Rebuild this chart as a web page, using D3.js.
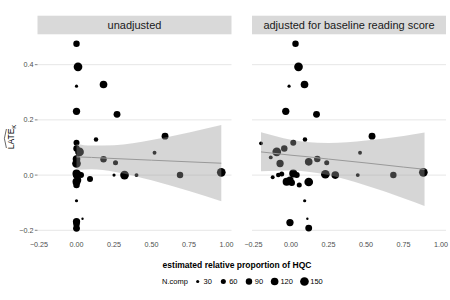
<!DOCTYPE html>
<html lang="en">
<head>
<meta charset="UTF-8">
<script src="https://d3js.org/d3.v7.min.js"></script>
<style>
  body { margin: 0; background: #fff; }
  svg { font-family: "Liberation Sans", Arial, sans-serif; }
</style>
</head>
<body>
<svg id="chart" width="450" height="300"></svg>
<script>
// panel titles
const panels = ["unadjusted", "adjusted for baseline reading score"];

// unadjusted panel points
const leftX = [0.00, 0.01, 0.00, 0.18, 0.00, 0.27, 0.13, 0.59, 0.00, 0.00, 0.02, 0.18, 0.26, 0.52,
  0.00, 0.00, 0.00, 0.03, 0.00, 0.00, 0.09, 0.25, 0.32, 0.40, 0.69, 0.965, 0.00, 0.04, 0.00, 0.00, 0.00,
  0.00, 0.01, 0.00, 0.02, 0.00, 0.00];
const leftY = [0.476, 0.392, 0.322, 0.328, 0.231, 0.220, 0.129, 0.141, 0.117, 0.096, 0.084, 0.057, 0.045, 0.081,
  0.042, 0.058, 0.006, 0.000, -0.024, -0.036, -0.014, 0.000, 0.000, 0.000, 0.000, 0.010, -0.093, -0.158, -0.169, -0.177, -0.193,
  0.000, -0.018, -0.028, 0.004, 0.064, -0.008];
const leftN = [90, 150, 30, 120, 110, 100, 50, 100, 80, 90, 150, 90, 60, 40,
  150, 120, 130, 80, 130, 90, 80, 30, 150, 40, 90, 150, 30, 20, 110, 90, 100,
  110, 90, 60, 60, 40, 40];

// adjusted panel points
const rightX = [0.03, 0.05, -0.013, 0.09, -0.035, 0.17, -0.20, 0.015, 0.093, 0.54, -0.045, -0.095, -0.135,
  -0.073, 0.118, 0.175, 0.238, 0.46, -0.122, -0.085, -0.062, 0.015, 0.038, -0.007, 0.005, -0.029, 0.055,
  0.118, 0.229, 0.295, 0.445, 0.682, 0.882, 0.091, -0.007, 0.109, 0.118];
const rightY = [0.476, 0.392, 0.322, 0.328, 0.231, 0.220, 0.115, 0.117, 0.129, 0.141, 0.096, 0.084, 0.064,
  0.042, 0.048, 0.058, 0.045, 0.081, -0.008, 0.000, 0.004, 0.006, 0.000, -0.018, -0.028, -0.024, -0.036,
  -0.025, 0.003, 0.000, 0.000, 0.000, 0.010, -0.093, -0.172, -0.158, -0.192];
const rightN = [90, 150, 30, 120, 110, 100, 40, 80, 50, 100, 90, 150, 40,
  110, 120, 90, 60, 40, 40, 50, 60, 130, 80, 110, 90, 130, 60,
  150, 150, 120, 40, 90, 150, 30, 110, 20, 100];

// linear fit with confidence band
const leftFitX = [0, 0.1, 0.25, 0.5, 0.75, 0.965];
const leftFit = [0.066, 0.064, 0.060, 0.054, 0.048, 0.043];
const leftLo = [0.019, 0.021, 0.012, -0.019, -0.058, -0.095];
const leftHi = [0.113, 0.107, 0.108, 0.127, 0.154, 0.181];

const rightFitX = [-0.2, 0, 0.1, 0.25, 0.5, 0.75, 0.89];
const rightFit = [0.084, 0.072, 0.067, 0.058, 0.044, 0.029, 0.021];
const rightLo = [0.014, 0.017, 0.013, 0.000, -0.038, -0.084, -0.112];
const rightHi = [0.155, 0.128, 0.120, 0.116, 0.125, 0.142, 0.154];

const xTicks = [-0.25, 0, 0.25, 0.5, 0.75, 1.0];
const yTicks = [-0.2, 0, 0.2, 0.4];
const legendN = [30, 60, 90, 120, 150];

const svg = d3.select("#chart");
const plotTop = 34.3, plotBottom = 238.3;
const panelLeft = [37.5, 252];
const panelW = 194;

const y = d3.scaleLinear().domain([-0.229, 0.51]).range([plotBottom, plotTop]);
const r = d3.scaleSqrt().domain([30, 150]).range([1.6, 4.35]);
const fmtX = d => d3.format(".2f")(d).replace("-", "\u2212");
const fmtY = d => d3.format(".1f")(d).replace("-", "\u2212");

const sets = [
  {x: leftX, y: leftY, n: leftN, fx: leftFitX, f: leftFit, lo: leftLo, hi: leftHi},
  {x: rightX, y: rightY, n: rightN, fx: rightFitX, f: rightFit, lo: rightLo, hi: rightHi}
];

panels.forEach((title, p) => {
  const x0 = panelLeft[p];
  const x = d3.scaleLinear().domain([-0.26, 1.033]).range([x0, x0 + panelW]);
  const g = svg.append("g");
  const s = sets[p];

  // strip
  g.append("rect").attr("x", x0).attr("y", 15.7).attr("width", panelW).attr("height", plotTop - 15.7)
    .attr("fill", "#d9d9d9");
  g.append("text").attr("x", x0 + panelW / 2).attr("y", 28.5).attr("text-anchor", "middle")
    .attr("font-size", "11px").attr("fill", "#1a1a1a").text(title);

  // gridlines
  g.selectAll("line.grid").data(yTicks).enter().append("line")
    .attr("x1", x0).attr("x2", x0 + panelW)
    .attr("y1", d => y(d)).attr("y2", d => y(d))
    .attr("stroke", "#e6e6e6").attr("stroke-width", 1);

  // x tick labels
  g.selectAll("text.xt").data(xTicks).enter().append("text")
    .attr("x", d => x(d)).attr("y", 246.5).attr("text-anchor", "middle")
    .attr("font-size", "7.2px").attr("fill", "#4d4d4d").text(fmtX);

  // points
  const pts = s.x.map((v, i) => ({x: v, y: s.y[i], n: s.n[i]}));
  g.selectAll("circle").data(pts).enter().append("circle")
    .attr("cx", d => x(d.x)).attr("cy", d => y(d.y)).attr("r", d => r(d.n))
    .attr("fill", "#000");

  // confidence band and fit
  const band = s.fx.map((v, i) => ({x: v, lo: s.lo[i], hi: s.hi[i], f: s.f[i]}));
  g.append("path").datum(band)
    .attr("d", d3.area().curve(d3.curveMonotoneX).x(d => x(d.x)).y0(d => y(d.lo)).y1(d => y(d.hi)))
    .attr("fill", "#999").attr("fill-opacity", 0.4);
  g.append("path").datum(band)
    .attr("d", d3.line().x(d => x(d.x)).y(d => y(d.f)))
    .attr("fill", "none").attr("stroke", "#999").attr("stroke-width", 1);
});

// y axis ticks + labels (left panel only)
const ya = svg.append("g");
ya.selectAll("line").data(yTicks).enter().append("line")
  .attr("x1", 34.8).attr("x2", 37.5).attr("y1", d => y(d)).attr("y2", d => y(d))
  .attr("stroke", "#333").attr("stroke-width", 0.6);
ya.selectAll("text").data(yTicks).enter().append("text")
  .attr("x", 33.5).attr("y", d => y(d) + 2.5).attr("text-anchor", "end")
  .attr("font-size", "7.2px").attr("fill", "#4d4d4d").text(fmtY);

// y axis title: LATE-hat with subscript K
const yt = svg.append("g").attr("transform", "translate(14,137) rotate(-90)");
const ytxt = yt.append("text").attr("text-anchor", "middle").attr("font-size", "8.5px").attr("fill", "#000");
ytxt.append("tspan").text("LATE");
ytxt.append("tspan").attr("font-size", "6px").attr("dy", 1.5).text("K");
yt.append("path").attr("d", "M-11,-7.6 L-1.5,-9.6 L8,-7.6")
  .attr("fill", "none").attr("stroke", "#000").attr("stroke-width", 0.6);

// x axis title
svg.append("text").attr("x", 237).attr("y", 267.5).attr("text-anchor", "middle")
  .attr("font-size", "8.5px").attr("font-weight", "bold").attr("fill", "#000")
  .text("estimated relative proportion of HQC");

// size legend
const leg = svg.append("g");
const ly = 281.5;
leg.append("text").attr("x", 162).attr("y", ly + 2.6).attr("font-size", "7.5px").attr("fill", "#000").text("N.comp");
let cur = 192.7;
legendN.forEach(v => {
  const kw = 10;
  leg.append("circle").attr("cx", cur + kw / 2).attr("cy", ly).attr("r", r(v)).attr("fill", "#000");
  const t = leg.append("text").attr("x", cur + kw + 0.8).attr("y", ly + 2.6)
    .attr("font-size", "7.5px").attr("fill", "#000").text(v);
  cur = cur + kw + 0.8 + t.node().getComputedTextLength() + 6.5;
});
</script>
</body>
</html>
